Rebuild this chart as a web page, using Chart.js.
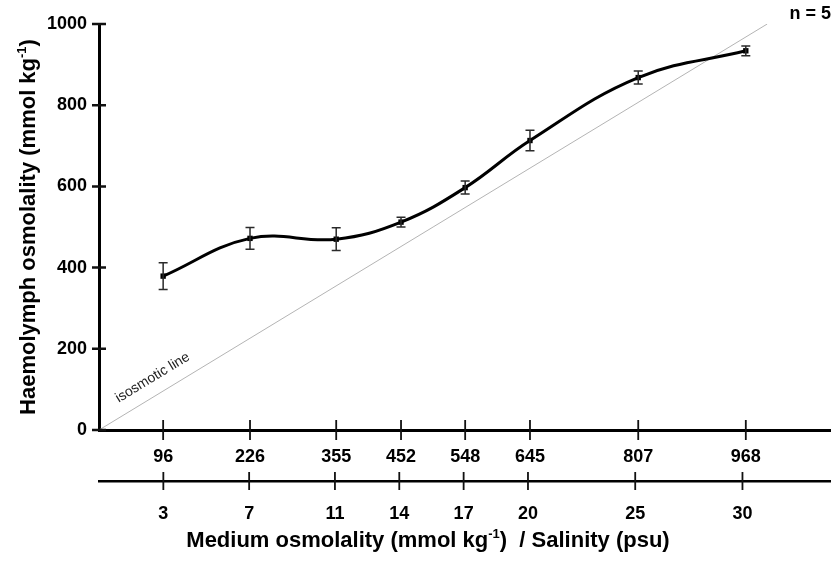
<!DOCTYPE html>
<html>
<head>
<meta charset="utf-8">
<title>Haemolymph osmolality</title>
<script src="https://cdn.jsdelivr.net/npm/chart.js@4.4.0/dist/chart.umd.min.js"></script>
<style>
  html, body { margin: 0; padding: 0; background: #fff; }
  #wrap { position: relative; width: 834px; height: 564px; }
</style>
</head>
<body>
<div id="wrap"><canvas id="osmoChart"></canvas></div>
<script>
// medium osmolality (mmol/kg) and the matching salinity (psu)
const mediumOsmo = [96, 226, 355, 452, 548, 645, 807, 968];
const salinity = [3, 7, 11, 14, 17, 20, 25, 30];
// haemolymph osmolality, mean and error bar (mmol/kg), n = 5
const haemoMean = [379, 472, 470, 512, 597, 713, 868, 934];
const haemoErr = [33, 27, 28, 12, 16, 25, 16, 12];
// isosmotic line (y = x)
const isoX = [0, 1000];
const yTicks = [0, 200, 400, 600, 800, 1000];

const X_MAX = 1094;
const MMOL_PER_PSU = 32.1;
const FONT = '"Liberation Sans", Arial, Helvetica, sans-serif';

Chart.defaults.font.family = FONT;
Chart.defaults.color = '#000';

// error bars with caps
const errorBars = {
    id: 'errorBars',
    afterDatasetsDraw(chart) {
        const { ctx, scales: { x, y } } = chart;
        ctx.save();
        ctx.strokeStyle = '#2a2a2a';
        ctx.lineWidth = 1.5;
        ctx.beginPath();
        mediumOsmo.forEach((v, i) => {
            const px = x.getPixelForValue(v);
            const top = y.getPixelForValue(haemoMean[i] + haemoErr[i]);
            const bot = y.getPixelForValue(haemoMean[i] - haemoErr[i]);
            ctx.moveTo(px, top); ctx.lineTo(px, bot);
            ctx.moveTo(px - 4.5, top); ctx.lineTo(px + 4.5, top);
            ctx.moveTo(px - 4.5, bot); ctx.lineTo(px + 4.5, bot);
        });
        ctx.stroke();
        ctx.restore();
    }
};

// tick marks that cross the axis lines
const crossTicks = {
    id: 'crossTicks',
    afterDraw(chart) {
        const { ctx, scales: { x, x2, y } } = chart;
        ctx.save();
        ctx.strokeStyle = '#111';
        ctx.lineWidth = 2.5;
        ctx.beginPath();
        y.ticks.forEach(t => {
            const py = y.getPixelForValue(t.value);
            ctx.moveTo(y.right - 7, py); ctx.lineTo(y.right + 7, py);
        });
        ctx.stroke();
        ctx.lineWidth = 1.8;
        ctx.beginPath();
        x.ticks.forEach(t => {
            const px = x.getPixelForValue(t.value);
            ctx.moveTo(px, x.top - 10); ctx.lineTo(px, x.top + 10);
        });
        x2.ticks.forEach(t => {
            const px = x2.getPixelForValue(t.value);
            ctx.moveTo(px, x2.top - 9); ctx.lineTo(px, x2.top + 9);
        });
        ctx.stroke();
        ctx.restore();
    }
};

// draw a text run with a superscript part
function richText(ctx, parts, x, y) {
    let total = 0;
    parts.forEach(p => { ctx.font = p.font; total += ctx.measureText(p.text).width; });
    let cx = x - total / 2;
    parts.forEach(p => {
        ctx.font = p.font;
        ctx.fillText(p.text, cx, y + (p.dy || 0));
        cx += ctx.measureText(p.text).width;
    });
}

const labels = {
    id: 'labels',
    afterDraw(chart) {
        const { ctx, chartArea, scales: { x, y } } = chart;
        const big = 'bold 22px ' + FONT;
        const sup = 'bold 13px ' + FONT;
        ctx.save();
        ctx.fillStyle = '#000';
        ctx.textAlign = 'left';
        ctx.textBaseline = 'alphabetic';

        // y axis title
        ctx.save();
        ctx.translate(35, (chartArea.top + chartArea.bottom) / 2);
        ctx.rotate(-Math.PI / 2);
        richText(ctx, [
            { text: 'Haemolymph osmolality (mmol kg', font: big },
            { text: '-1', font: sup, dy: -9 },
            { text: ')', font: big }
        ], 0, 0);
        ctx.restore();

        // x axis title
        richText(ctx, [
            { text: 'Medium osmolality (mmol kg', font: big },
            { text: '-1', font: sup, dy: -9 },
            { text: ')  / Salinity (psu)', font: big }
        ], chart.width / 2 + 11, 547);

        // n = 5
        ctx.font = 'bold 18px ' + FONT;
        ctx.textAlign = 'right';
        ctx.fillText('n = 5', chart.width - 3, 19);

        // isosmotic line label
        const ax = x.getPixelForValue(93.5), ay = y.getPixelForValue(93.5);
        const angle = Math.atan2(y.getPixelForValue(0) - y.getPixelForValue(1000),
                                 x.getPixelForValue(1000) - x.getPixelForValue(0));
        ctx.translate(ax, ay);
        ctx.rotate(-angle);
        ctx.font = '14px ' + FONT;
        ctx.fillStyle = '#222';
        ctx.textAlign = 'center';
        ctx.fillText('isosmotic line', 0, -13);
        ctx.restore();
    }
};

const tickFont = { size: 18, weight: 'bold' };

new Chart(document.getElementById('osmoChart'), {
    type: 'line',
    data: {
        datasets: [
            {
                label: 'isosmotic line',
                data: isoX.map(v => ({ x: v, y: v })),
                borderColor: '#b4b4b4',
                borderWidth: 1,
                pointRadius: 0,
                tension: 0,
                order: 2
            },
            {
                label: 'Haemolymph',
                data: mediumOsmo.map((v, i) => ({ x: v, y: haemoMean[i] })),
                borderColor: '#000',
                borderWidth: 3,
                tension: 0.4,
                pointStyle: 'rect',
                pointRadius: 3.8,
                pointBackgroundColor: '#000',
                pointBorderWidth: 0,
                order: 1
            }
        ]
    },
    options: {
        responsive: true,
        maintainAspectRatio: false,
        animation: false,
        layout: { padding: { top: 24, right: 0, bottom: 0, left: 0 } },
        plugins: {
            legend: { display: false },
            tooltip: { enabled: false }
        },
        scales: {
            x: {
                type: 'linear',
                position: 'bottom',
                weight: 0,
                min: 0,
                max: X_MAX,
                grid: { display: false, drawTicks: false },
                border: { display: true, color: '#000', width: 3 },
                afterBuildTicks: s => { s.ticks = mediumOsmo.map(v => ({ value: v })); },
                afterFit: s => { s.height = 51; },
                ticks: {
                    autoSkip: false, maxRotation: 0, padding: 16,
                    color: '#000', font: tickFont,
                    callback: v => String(v)
                }
            },
            x2: {
                type: 'linear',
                position: 'bottom',
                weight: 1,
                min: 0,
                max: X_MAX / MMOL_PER_PSU,
                grid: { display: false, drawTicks: false },
                border: { display: true, color: '#000', width: 2.5 },
                afterBuildTicks: s => { s.ticks = salinity.map(v => ({ value: v })); },
                afterFit: s => { s.height = 83; },
                ticks: {
                    autoSkip: false, maxRotation: 0, padding: 22,
                    color: '#000', font: tickFont,
                    callback: v => String(v)
                }
            },
            y: {
                type: 'linear',
                min: 0,
                max: 1000,
                grid: { display: false, drawTicks: false },
                border: { display: true, color: '#000', width: 3 },
                afterBuildTicks: s => { s.ticks = yTicks.map(v => ({ value: v })); },
                afterFit: s => { s.width = 99; },
                ticks: {
                    padding: 12,
                    color: '#000', font: tickFont,
                    callback: v => String(v)
                }
            }
        }
    },
    plugins: [errorBars, crossTicks, labels]
});
</script>
</body>
</html>
